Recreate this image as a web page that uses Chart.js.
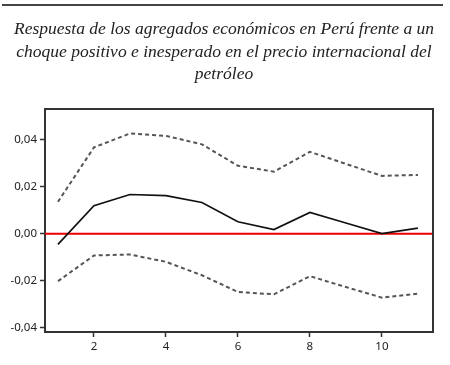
<!DOCTYPE html>
<html><head><meta charset="utf-8">
<script src="https://cdn.jsdelivr.net/npm/chart.js@4.4.1/dist/chart.umd.min.js"></script>
<style>
html,body{margin:0;padding:0;background:#fff;}
#wrap{position:relative;width:450px;height:365px;}
#rule{position:absolute;left:2px;top:4px;width:441px;height:0;border-top:2px solid #444;}
#title{position:absolute;left:0;top:17px;width:448px;text-align:center;white-space:nowrap;font-family:"Liberation Serif",serif;font-style:italic;font-size:17.5px;line-height:22.5px;color:#222;}
canvas{position:absolute;left:0;top:0;}
</style></head>
<body><div id="wrap">
<canvas id="c" width="450" height="365"></canvas>
<div id="rule"></div>
<div id="title">Respuesta de los agregados económicos en Perú frente a un<br>choque positivo e inesperado en el precio internacional del<br>petróleo</div>
</div>
<script>
const periods = [1,2,3,4,5,6,7,8,9,10,11];
const response = [-0.0045,0.0119,0.0167,0.0162,0.0133,0.0051,0.0018,0.0091,0.0046,0.0001,0.0024];
const upperBand = [0.0136,0.0367,0.0426,0.0416,0.0380,0.0289,0.0264,0.0348,0.0297,0.0246,0.0250];
const lowerBand = [-0.0201,-0.0092,-0.0088,-0.0119,-0.0176,-0.0247,-0.0257,-0.0180,-0.0226,-0.0271,-0.0254];
const xTicks = [2,4,6,8,10];
const yTicks = [-0.04,-0.02,0,0.02,0.04];

const pts = arr => periods.map((p,i)=>({x:p,y:arr[i]}));

const framePlugin = {
  id:'frame',
  beforeDatasetsDraw(chart){
    const {ctx, chartArea:a, scales} = chart;
    const y0 = scales.y.getPixelForValue(0);
    ctx.save();
    ctx.strokeStyle = '#ee0000'; ctx.lineWidth = 2;
    ctx.beginPath(); ctx.moveTo(a.left, y0); ctx.lineTo(a.right, y0); ctx.stroke();
    ctx.restore();
  },
  afterDraw(chart){
    const {ctx, chartArea:a} = chart;
    ctx.save();
    ctx.strokeStyle = '#333'; ctx.lineWidth = 2;
    ctx.beginPath();
    ctx.moveTo(a.left, a.top); ctx.lineTo(a.right, a.top); ctx.lineTo(a.right, a.bottom);
    ctx.stroke();
    ctx.restore();
  }
};

new Chart(document.getElementById('c'), {
  type:'line',
  data:{datasets:[
    {data:pts(upperBand), borderColor:'#555', borderWidth:2, borderDash:[4,3], pointRadius:0, tension:0},
    {data:pts(lowerBand), borderColor:'#555', borderWidth:2, borderDash:[4,3], pointRadius:0, tension:0},
    {data:pts(response), borderColor:'#111', borderWidth:1.7, pointRadius:0, tension:0}
  ]},
  options:{
    responsive:false, animation:false,
    layout:{padding:{left:0,right:17,top:109,bottom:0}},
    plugins:{legend:{display:false}, tooltip:{enabled:false}, title:{display:false}},
    scales:{
      x:{type:'linear', min:0.64, max:11.42,
        afterBuildTicks(s){ s.ticks = xTicks.map(v=>({value:v})); },
        afterFit(s){ s.height = 33; },
        grid:{display:true, drawOnChartArea:false, drawTicks:true, tickLength:5, tickColor:'#333', tickWidth:1.5},
        border:{display:true, color:'#333', width:2},
        ticks:{font:{family:'"Noto Sans"', size:11.5}, color:'#222', padding:3, maxRotation:0,
          callback:v=>String(v)}
      },
      y:{type:'linear', min:-0.0417, max:0.053,
        afterBuildTicks(s){ s.ticks = yTicks.map(v=>({value:v})); },
        afterFit(s){ s.width = 45; },
        grid:{display:true, drawOnChartArea:false, drawTicks:true, tickLength:5, tickColor:'#333', tickWidth:1.5},
        border:{display:true, color:'#333', width:2},
        ticks:{font:{family:'"Noto Sans"', size:11.5}, color:'#222', padding:3,
          callback:v=>v.toFixed(2).replace('.',',')}
      }
    }
  },
  plugins:[framePlugin]
});
</script>
</body></html>
